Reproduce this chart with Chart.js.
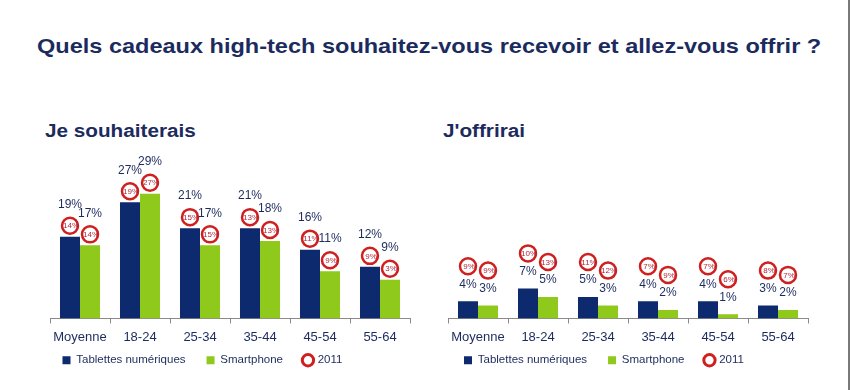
<!DOCTYPE html>
<html>
<head>
<meta charset="utf-8">
<script src="https://cdn.jsdelivr.net/npm/chart.js@4/dist/chart.umd.min.js"></script>
<style>
  body { margin: 0; background: #fff; }
  #page { position: relative; width: 851px; height: 390px; overflow: hidden; font-family: "Liberation Sans", Arial, sans-serif; }
  .title { position: absolute; left: 37px; top: 34px; font-size: 21px; font-weight: bold; color: #1c2b5e; white-space: nowrap; transform: scaleX(1.12); transform-origin: left top; }
  .sub { position: absolute; top: 121px; font-size: 18px; font-weight: bold; color: #1c2b5e; white-space: nowrap; transform: scaleX(1.15); transform-origin: left top; }
  canvas { position: absolute; top: 150px; }
  #edge { position: absolute; left: 848px; top: 0; width: 2px; height: 390px; background: #7a7a7a; }
</style>
</head>
<body>
<div id="page">
  <div class="title">Quels cadeaux high-tech souhaitez-vous recevoir et allez-vous offrir ?</div>
  <div class="sub" style="left:45px">Je souhaiterais</div>
  <div class="sub" style="left:443px">J'offrirai</div>
  <canvas id="wish-chart" width="420" height="260" style="left:0"></canvas>
  <canvas id="give-chart" width="400" height="260" style="left:420px"></canvas>
  <div id="edge"></div>
</div>
<script>
// Categories (age groups)
const categories = ['Moyenne', '18-24', '25-34', '35-44', '45-54', '55-64'];

// "Je souhaiterais"
const wishTablets = [19, 27, 21, 21, 16, 12];
const wishPhones = [17, 29, 17, 18, 11, 9];
const wishTablets2011 = [14, 19, 15, 13, 11, 9];
const wishPhones2011 = [14, 27, 15, 13, 9, 3];

// "J'offrirai"
const giveTablets = [4, 7, 5, 4, 4, 3];
const givePhones = [3, 5, 3, 2, 1, 2];
const giveTablets2011 = [9, 10, 11, 7, 7, 8];
const givePhones2011 = [9, 13, 12, 9, 6, 7];

const NAVY = '#0d2a6e';
const GREEN = '#8ec91c';
const RED = '#cf1f1f';
const TEXT = '#1c2b5e';
const FONT = '"Liberation Sans", Arial, sans-serif';

// Draws the value labels and the red 2011 rings above each bar
const ringPlugin = {
    id: 'rings',
    afterDatasetsDraw(chart, args, opts) {
        const ctx = chart.ctx;
        ctx.save();
        ctx.textAlign = 'center';
        ctx.textBaseline = 'middle';
        chart.data.datasets.forEach((ds, i) => {
            const meta = chart.getDatasetMeta(i);
            meta.data.forEach((bar, j) => {
                // value label
                ctx.fillStyle = TEXT;
                ctx.font = '12px ' + FONT;
                ctx.fillText(ds.data[j] + '%', bar.x, bar.y - opts.labelGap);
                // 2011 ring
                const cy = bar.y - opts.ringGap;
                ctx.beginPath();
                ctx.arc(bar.x, cy, 8, 0, Math.PI * 2);
                ctx.fillStyle = '#fff';
                ctx.fill();
                ctx.lineWidth = 2.5;
                ctx.strokeStyle = RED;
                ctx.stroke();
                ctx.fillStyle = '#b0283a';
                ctx.font = '8px ' + FONT;
                ctx.fillText(ds.old[j] + '%', bar.x + 1, cy + 0.5);
            });
        });
        ctx.restore();
    }
};

// Pulls the legend up closer to the axis labels
const legendLift = {
    id: 'legendLift',
    afterLayout(chart, args, opts) {
        chart.legend.top -= opts.lift;
        chart.legend.bottom -= opts.lift;
    }
};

function makeChart(canvasId, tablets, phones, tablets2011, phones2011, pad, yWidth, gaps) {
    const canvas = document.querySelector(canvasId);
    return new Chart(canvas, {
        type: 'bar',
        data: {
            labels: categories,
            datasets: [
                { label: 'Tablettes numériques', data: tablets, old: tablets2011, backgroundColor: NAVY },
                { label: 'Smartphone', data: phones, old: phones2011, backgroundColor: GREEN }
            ]
        },
        options: {
            responsive: false,
            animation: false,
            devicePixelRatio: 1,
            layout: { padding: pad },
            datasets: { bar: { categoryPercentage: 0.667, barPercentage: 1.0 } },
            scales: {
                x: {
                    grid: { offset: true, drawOnChartArea: false, drawTicks: true, tickLength: 5, color: '#8a8a8a' },
                    border: { display: true, color: '#8a8a8a' },
                    ticks: { color: TEXT, padding: 7, font: { family: FONT, size: 13, lineHeight: 1.0 } }
                },
                y: {
                    min: 0,
                    max: 38,
                    grid: { display: false, drawTicks: false },
                    border: { display: false },
                    ticks: { display: false },
                    afterFit: (scale) => { scale.width = yWidth; }
                }
            },
            plugins: {
                tooltip: { enabled: false },
                rings: gaps,
                legendLift: { lift: 17 },
                legend: {
                    position: 'bottom',
                    align: 'start',
                    labels: {
                        usePointStyle: true,
                        boxWidth: 8,
                        boxHeight: 8,
                        padding: 21,
                        color: TEXT,
                        font: { family: FONT, size: 11.5 },
                        generateLabels: () => [
                            { text: 'Tablettes numériques', fillStyle: NAVY, strokeStyle: NAVY, lineWidth: 0, pointStyle: 'rect', fontColor: TEXT },
                            { text: 'Smartphone', fillStyle: GREEN, strokeStyle: GREEN, lineWidth: 0, pointStyle: 'rect', fontColor: TEXT },
                            { text: '2011', fillStyle: '#fff', strokeStyle: RED, lineWidth: 3, pointStyle: 'circle', fontColor: TEXT }
                        ]
                    }
                }
            }
        },
        plugins: [ringPlugin, legendLift]
    });
}

makeChart('#wish-chart', wishTablets, wishPhones, wishTablets2011, wishPhones2011,
    { left: 41.5, right: 10, top: 5, bottom: 17 }, 8.5, { labelGap: 32, ringGap: 11 });
makeChart('#give-chart', giveTablets, givePhones, giveTablets2011, givePhones2011,
    { left: 23, right: 12, top: 5, bottom: 17 }, 5, { labelGap: 17, ringGap: 35 });
</script>
</body>
</html>
